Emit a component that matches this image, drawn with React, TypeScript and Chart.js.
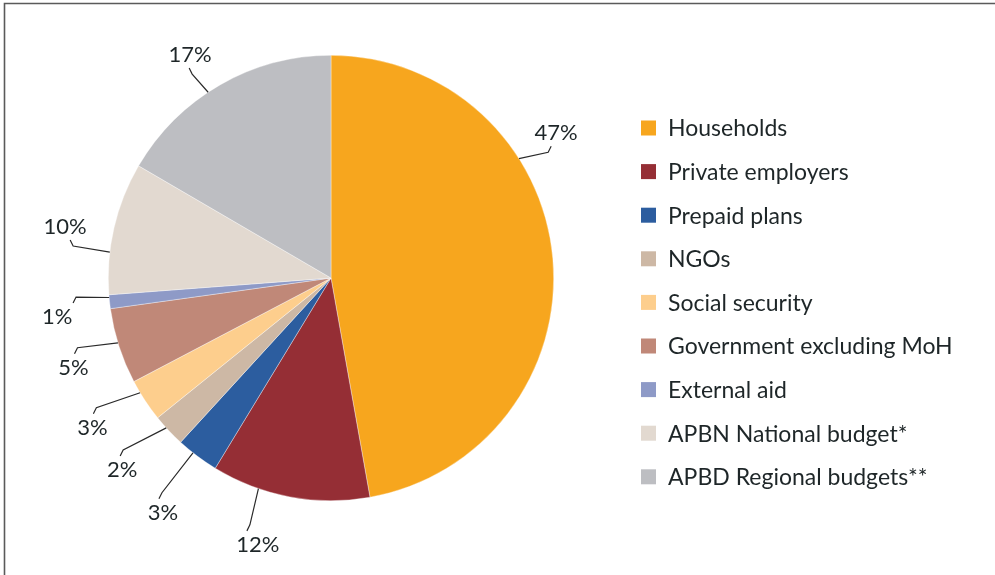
import React, { useEffect, useRef } from "react";
import { Chart, registerables } from "chart.js";

Chart.register(...registerables);

const categories = [
  "Households",
  "Private employers",
  "Prepaid plans",
  "NGOs",
  "Social security",
  "Government excluding MoH",
  "External aid",
  "APBN National budget*",
  "APBD Regional budgets**",
];
const shares = [47.2, 11.5, 3.1, 2.4, 3.1, 5.5, 1.0, 9.6, 16.6];
const sliceLabels = ["47%", "12%", "3%", "2%", "3%", "5%", "1%", "10%", "17%"];
const colors = [
  "#F7A61E",
  "#952E35",
  "#2C5D9F",
  "#CDB8A5",
  "#FDCE8D",
  "#C08878",
  "#8E9AC7",
  "#E2D9D0",
  "#BDBEC2",
];

// label layout (degrees shift from slice middle, distance beyond the rim)
const labelShift = [-27.7, 4.7, -1.3, 0.6, 1.2, -1.4, -2.0, -2.1, -2.4];
const labelGap = [45, 54, 66, 61, 59, 50, 54, 48, 41];
const anchorShift = [-27.4, 8.4, 1.4, 0.9, 2.3, 0.9, 1.1, -6.3, -3.6];
const tickDx = [-5, -11, -4, -2, 1, 1, 16, 5, -1];

const FONT = "Lato, 'Open Sans', sans-serif";
const TEXT = "#1e2628";

const decorPlugin = {
  id: "decor",
  afterDraw(chart: any) {
    const ctx = chart.ctx;
    const meta = chart.getDatasetMeta(0);
    ctx.save();
    // frame
    ctx.strokeStyle = "#5a5a5a";
    ctx.lineWidth = 1.6;
    ctx.beginPath();
    ctx.moveTo(4.5, chart.height + 5);
    ctx.lineTo(4.5, 3.5);
    ctx.lineTo(chart.width + 5, 3.5);
    ctx.stroke();

    // slice labels with leader lines
    ctx.font = `22px ${FONT}`;
    ctx.textAlign = "center";
    ctx.textBaseline = "middle";
    meta.data.forEach((arc: any, i: number) => {
      const p = arc.getProps(["x", "y", "startAngle", "endAngle", "outerRadius"], true);
      const mid = (p.startAngle + p.endAngle) / 2;
      const la = mid + (labelShift[i] * Math.PI) / 180;
      const aa = mid + (anchorShift[i] * Math.PI) / 180;
      const R = p.outerRadius + labelGap[i];
      const lx = p.x + R * Math.cos(la);
      const ly = p.y + R * Math.sin(la);
      const ax = p.x + p.outerRadius * Math.cos(aa);
      const ay = p.y + p.outerRadius * Math.sin(aa);
      const above = ly < p.y;
      const ey = above ? ly + 13 : ly - 14;
      const ex = lx + tickDx[i];
      const by = above ? ey + 6 : ey - 6;
      const bx = ex + (ax > ex ? 3 : ax < ex ? -3 : 0);
      ctx.strokeStyle = "#2a2a2a";
      ctx.lineWidth = 1.2;
      ctx.beginPath();
      ctx.moveTo(ax, ay);
      ctx.lineTo(bx, by);
      ctx.lineTo(ex, ey);
      ctx.stroke();
      ctx.fillStyle = TEXT;
      ctx.fillText(sliceLabels[i], lx, ly);
    });

    // legend
    const boxX = 641;
    const textX = 668;
    const y0 = 128;
    const step = 43.6;
    ctx.textAlign = "left";
    ctx.font = `23px ${FONT}`;
    categories.forEach((c, i) => {
      const y = y0 + i * step;
      ctx.fillStyle = colors[i];
      ctx.fillRect(boxX, y - 7.5, 15, 15);
      ctx.fillStyle = TEXT;
      ctx.fillText(c, textX, y + 1);
    });
    ctx.restore();
  },
};

export default function App() {
  const ref = useRef<HTMLCanvasElement | null>(null);
  useEffect(() => {
    if (!ref.current) return;
    const chart = new Chart(ref.current, {
      type: "pie",
      data: {
        labels: categories,
        datasets: [
          {
            data: shares,
            backgroundColor: colors,
            borderColor: "rgba(255,255,255,0.6)",
            borderWidth: 0.6,
          },
        ],
      },
      options: {
        animation: false,
        responsive: true,
        maintainAspectRatio: false,
        layout: { padding: { left: 108, right: 441, top: 55, bottom: 74 } },
        plugins: {
          legend: { display: false },
          tooltip: { enabled: false },
        },
      },
      plugins: [decorPlugin],
    });
    return () => chart.destroy();
  }, []);
  return (
    <div style={{ position: "fixed", left: 0, top: 0, width: 995, height: 575, background: "#fff" }}>
      <canvas ref={ref} />
    </div>
  );
}
